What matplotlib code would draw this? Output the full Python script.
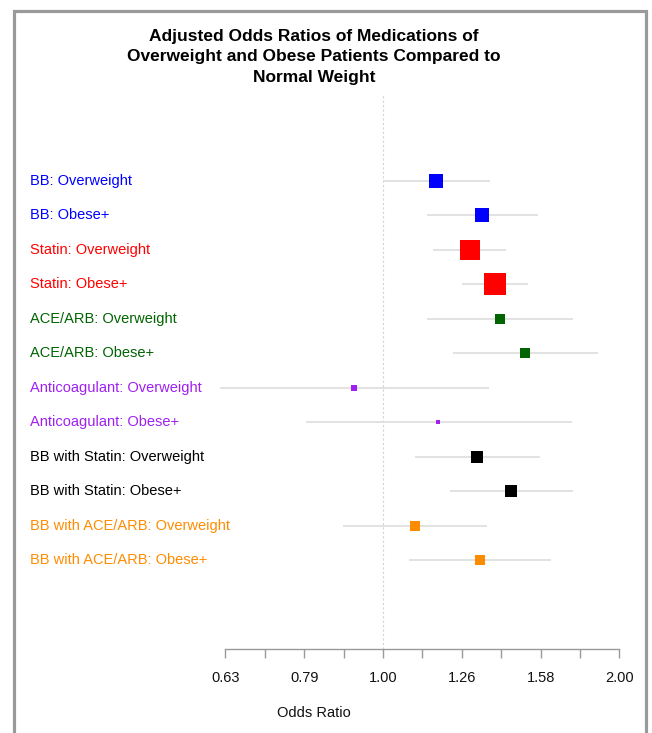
import numpy as np
import matplotlib.pyplot as plt
import matplotlib.transforms as mtransforms
from matplotlib.patches import Rectangle

plt.rcParams["font.family"] = ["Liberation Sans", "DejaVu Sans"]

# rows top to bottom
labels = [
    "BB: Overweight", "BB: Obese+",
    "Statin: Overweight", "Statin: Obese+",
    "ACE/ARB: Overweight", "ACE/ARB: Obese+",
    "Anticoagulant: Overweight", "Anticoagulant: Obese+",
    "BB with Statin: Overweight", "BB with Statin: Obese+",
    "BB with ACE/ARB: Overweight", "BB with ACE/ARB: Obese+",
]
odds_ratio = [1.168, 1.337, 1.288, 1.386, 1.406, 1.516, 0.920, 1.176, 1.316, 1.455, 1.099, 1.327]
ci_low = [1.000, 1.137, 1.157, 1.258, 1.137, 1.226, 0.621, 0.799, 1.098, 1.217, 0.889, 1.078]
ci_high = [1.366, 1.571, 1.431, 1.528, 1.740, 1.872, 1.363, 1.739, 1.580, 1.742, 1.356, 1.634]
# relative box weight (precision)
box_weight = [13.3, 13.3, 20.0, 21.6, 10.0, 10.4, 5.4, 5.0, 12.0, 11.7, 10.0, 10.0]
row_colors = ["#0000FF", "#0000FF", "#FF0000", "#FF0000", "#006400", "#006400",
              "#A020F0", "#A020F0", "#000000", "#000000", "#FF8C00", "#FF8C00"]

tick_log = np.arange(-0.2, 0.301, 0.05)
tick_text = ["0.63", "", "0.79", "", "1.00", "", "1.26", "", "1.58", "", "2.00"]

W, H = 652, 733
fig = plt.figure(figsize=(W / 100, H / 100), dpi=100)
fig.patch.set_facecolor("white")

ax_left, ax_right, ax_top, ax_bot = 200, 640, 95, 649
ax = fig.add_axes([ax_left / W, 1 - ax_bot / H, (ax_right - ax_left) / W, (ax_bot - ax_top) / H])
ax.set_xscale("log")
px_per_dec = 788.0
ax.set_xlim(10 ** ((ax_left - 383) / px_per_dec), 10 ** ((ax_right - 383) / px_per_dec))
row_px = 34.45
ax.set_ylim(-(ax_bot - 181) / row_px, (181 - ax_top) / row_px)

for s in ["top", "right", "left"]:
    ax.spines[s].set_visible(False)
ax.spines["bottom"].set_color("#999999")
ax.spines["bottom"].set_linewidth(1.0)
ax.spines["bottom"].set_bounds(10 ** tick_log[0], 10 ** tick_log[-1])
ax.set_yticks([])
ax.set_xticks(10 ** tick_log)
ax.set_xticklabels(tick_text, fontsize=10.5, color="#111111")
ax.xaxis.set_minor_locator(plt.NullLocator())
ax.tick_params(axis="x", direction="out", length=6.5, width=1.0, color="#999999", pad=9)

ax.axvline(1.0, color="#d4d4d4", linestyle=(0, (2, 2)), linewidth=0.8, zorder=1)

ys = -np.arange(len(labels))
for y, orv, lo, hi, w, c in zip(ys, odds_ratio, ci_low, ci_high, box_weight, row_colors):
    ax.plot([lo, hi], [y, y], color="#dddddd", linewidth=1.2, zorder=2, solid_capstyle="butt")
    ax.plot([orv], [y], marker="s", markersize=w * 0.72, color=c, markeredgewidth=0, zorder=3)

trans = mtransforms.blended_transform_factory(fig.transFigure, ax.transData)
for y, lab, c in zip(ys, labels, row_colors):
    ax.text(30 / W, y, lab, transform=trans, ha="left", va="center", fontsize=10.5, color=c, clip_on=False)

fig.text(314 / W, 1 - 57 / H,
         "Adjusted Odds Ratios of Medications of\nOverweight and Obese Patients Compared to\nNormal Weight",
         ha="center", va="center", fontsize=12.5, fontweight="bold", linespacing=1.42)
fig.text(314 / W, 1 - 713 / H, "Odds Ratio", ha="center", va="center", fontsize=10.5, color="#111111")

frame = Rectangle((14 / W, -0.05), (646 - 14) / W, 1.05 - 11 / H, transform=fig.transFigure,
                  fill=False, edgecolor="#9a9a9a", linewidth=2.3)
fig.patches.append(frame)

fig.savefig("out.png", dpi=100, facecolor="white")
